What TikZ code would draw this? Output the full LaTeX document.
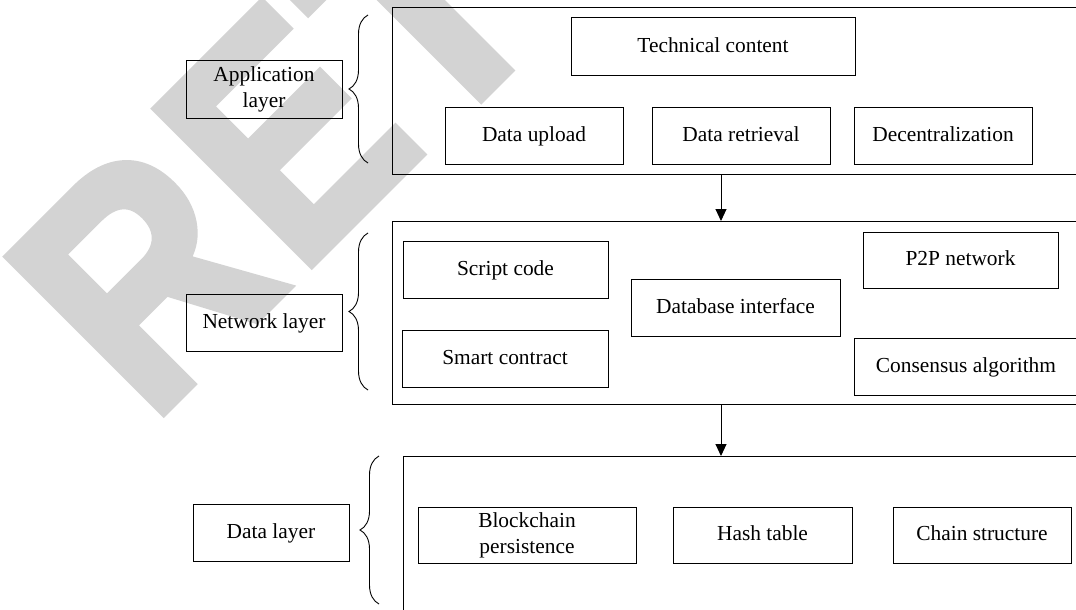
\documentclass[tikz,border=0pt]{standalone}
\usepackage{fontspec}
\setmainfont{Liberation Serif}
\newfontfamily\wmfont[BoldFeatures={FakeBold=3}]{Liberation Sans}
\usetikzlibrary{arrows.meta,decorations.pathreplacing}
\definecolor{wmgray}{RGB}{211,211,211}
\begin{document}
\begin{tikzpicture}[x=1pt,y=-1pt,
  frame/.style={draw,line width=1pt,inner sep=0pt,minimum height=57pt,align=center,font=\fontsize{21.4}{25.7}\selectfont},
  box/.style={frame,text height=15pt,text depth=4pt},
  container/.style={draw,line width=1.2pt,inner sep=0pt,anchor=north west},
  arr/.style={line width=1pt,-{Triangle[length=12pt,width=11pt]}},
  brc/.style={decorate,decoration={brace,amplitude=19pt},line width=0.9pt},
  wmletter/.style={inner sep=0pt,anchor=base west,rotate=45,text=wmgray,font=\wmfont\bfseries\fontsize{318}{318}\selectfont},
]
\clip (0,0) rectangle (1076,610);
% watermark
\node[wmletter] (wmR) at (150,425) {\scalebox{0.87}[1]{R}};
\node[wmletter] (wmE) at (298,277) {\scalebox{0.87}[1]{E}};
\node[wmletter] (wmT) at (435,144) {\scalebox{0.87}[1]{T}};
% containers
\node[container,minimum width=720pt,minimum height=167pt] (appC) at (392,7) {};
\node[container,minimum width=720pt,minimum height=183pt] (netC) at (392,221) {};
\node[container,minimum width=720pt,minimum height=200pt] (dataC) at (403,456) {};
% application layer
\node[box,minimum width=284pt,minimum height=58pt] (tech) at (713,47) {Technical content};
\node[box,minimum width=178pt] (upload) at (534,135.5) {Data upload};
\node[box,minimum width=178pt] (retr) at (741,135.5) {Data retrieval};
\node[box,minimum width=178pt] (decen) at (943,135.5) {Decentralization};
% network layer
\node[box,minimum width=205pt] (script) at (505.5,269.5) {Script code};
\node[box,minimum width=206pt] (smart) at (505,358.5) {Smart contract};
\node[box,minimum width=209pt] (dbi) at (735.5,307.5) {Database interface};
\node[box,minimum width=195pt,minimum height=56pt] (p2p) at (960.5,260) {P2P network};
\node[box,minimum width=224pt] (cons) at (966,366.5) {Consensus algorithm};
% data layer
\node[frame,minimum width=218pt,minimum height=56pt] (bcp) at (527,535) {Blockchain\\persistence};
\node[box,minimum width=179pt,minimum height=56pt] (hash) at (762.5,535) {Hash table};
\node[box,minimum width=178pt,minimum height=56pt] (chain) at (982,535) {Chain structure};
% labels
\node[frame,minimum width=156pt] (appL) at (264,89.5) {Application\\layer};
\node[box,minimum width=156pt] (netL) at (264,322.5) {Network layer};
\node[box,minimum width=156pt] (dataL) at (271,532.5) {Data layer};
% braces
\coordinate (b1a) at (368,163); \coordinate (b1b) at (368,15);
\coordinate (b2a) at (368,390); \coordinate (b2b) at (368,233);
\coordinate (b3a) at (379,604); \coordinate (b3b) at (379,456);
\draw[brc] (b1a) -- (b1b);
\draw[brc] (b2a) -- (b2b);
\draw[brc] (b3a) -- (b3b);
% arrows
\coordinate (ax) at (721,0);
\draw[arr] (appC.south -| ax) -- (netC.north -| ax);
\draw[arr] (netC.south -| ax) -- (dataC.north -| ax);
\end{tikzpicture}
\end{document}
